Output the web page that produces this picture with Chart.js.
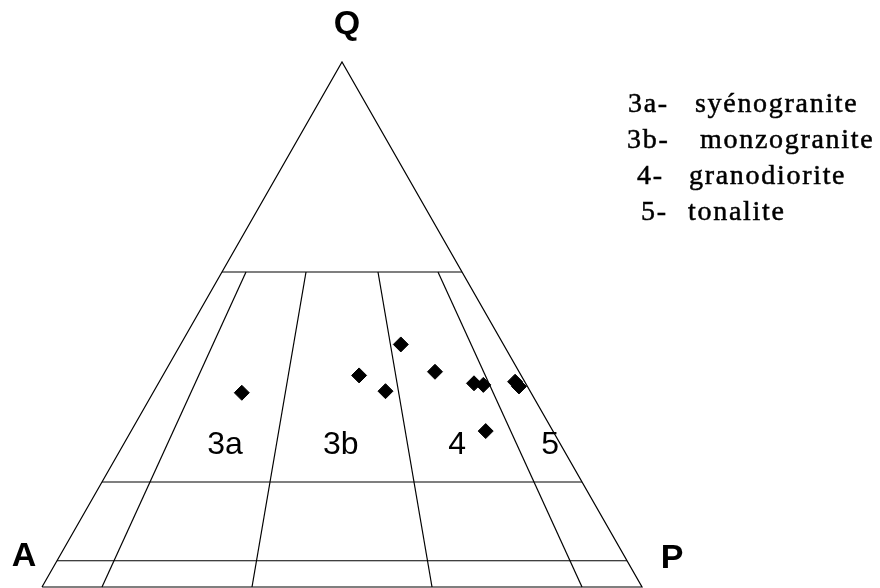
<!DOCTYPE html>
<html>
<head>
<meta charset="utf-8">
<title>QAP</title>
<script src="https://cdn.jsdelivr.net/npm/chart.js@4.4.1/dist/chart.umd.min.js"></script>
<style>
    body { margin: 0; background: #fff; }
    #wrap { width: 880px; height: 588px; position: relative; }
</style>
</head>
<body>
<div id="wrap"><canvas id="qap"></canvas></div>
<script>
// Sample compositions (%), Q + A + P = 100
const qValues = [37.0, 40.3, 37.3, 46.2, 41.0, 38.8, 38.5, 39.1, 38.2, 29.7];
const aValues = [48.2, 27.0, 24.1, 17.1, 14.0, 8.6, 7.2, 1.6, 1.4, 11.2];
const pValues = [14.8, 32.7, 38.6, 36.7, 45.0, 52.6, 54.3, 59.3, 60.4, 59.1];

// Diagram fields
const quartzLines = [60, 20, 5];            // Q % of horizontal lines
const plagRatios = [10, 35, 65, 90];        // 100*P/(A+P) of field boundaries
const fieldLabels = ['3a', '3b', '4', '5'];
const apexLabels = ['Q', 'A', 'P'];
const legendCodes = ['3a-', '3b-', '4-', '5-'];
const legendNames = ['syénogranite', 'monzogranite', 'granodiorite', 'tonalite'];

// ternary -> cartesian (x along A-P, y = Q)
const toXY = (q, a, p) => {
    let s = q + a + p;
    q = q * 100 / s;
    p = p * 100 / s;
    return { x: p + q / 2, y: q };
};

let lineSets = [];
const addLine = (pts) => {
    lineSets.push({
        data: pts,
        showLine: true,
        borderColor: '#000',
        borderWidth: 1.2,
        pointRadius: 0,
        fill: false
    });
};

// outline
addLine([toXY(0, 100, 0), toXY(100, 0, 0), toXY(0, 0, 100), toXY(0, 100, 0)]);

// horizontal Q lines
quartzLines.forEach(q => {
    addLine([toXY(q, 100 - q, 0), toXY(q, 0, 100 - q)]);
});

// field boundaries below Q = 60
plagRatios.forEach(r => {
    let top = 100 - quartzLines[0];
    addLine([
        toXY(quartzLines[0], top * (100 - r) / 100, top * r / 100),
        toXY(0, 100 - r, r)
    ]);
});

let samples = qValues.map((q, i) => toXY(q, aValues[i], pValues[i]));

const labelsPlugin = {
    id: 'qapLabels',
    afterDraw(chart) {
        const ctx = chart.ctx;
        const xs = chart.scales.x, ys = chart.scales.y;
        const px = (pt) => [xs.getPixelForValue(pt.x), ys.getPixelForValue(pt.y)];
        ctx.save();
        ctx.fillStyle = '#000';
        ctx.textAlign = 'center';
        ctx.textBaseline = 'middle';

        // apex letters
        ctx.font = 'bold 34px "Liberation Sans", Arial, sans-serif';
        let q = px(toXY(100, 0, 0));
        ctx.fillText(apexLabels[0], q[0] + 5, q[1] - 37);
        let a = px(toXY(0, 100, 0));
        ctx.fillText(apexLabels[1], a[0] - 18, a[1] - 30);
        let p = px(toXY(0, 0, 100));
        ctx.fillText(apexLabels[2], p[0] + 30, p[1] - 28);

        // field names
        ctx.font = '32px "Liberation Sans", Arial, sans-serif';
        const fieldX = [30.5, 49.8, 69.2, 84.7];
        fieldLabels.forEach((t, i) => {
            ctx.fillText(t, xs.getPixelForValue(fieldX[i]), ys.getPixelForValue(27));
        });

        // legend
        ctx.textAlign = 'left';
        ctx.textBaseline = 'alphabetic';
        ctx.font = '28px "Liberation Serif", "Times New Roman", serif';
        ctx.letterSpacing = '1.7px';
        ctx.strokeStyle = '#000';
        ctx.lineWidth = 0.5;
        const codeX = [628, 627, 637, 641];
        const nameX = [695, 700, 689, 688];
        legendCodes.forEach((c, i) => {
            let y = 112 + i * 36;
            ctx.fillText(c, codeX[i], y);
            ctx.strokeText(c, codeX[i], y);
            ctx.fillText(legendNames[i], nameX[i], y);
            ctx.strokeText(legendNames[i], nameX[i], y);
        });
        ctx.restore();
    }
};

new Chart(document.getElementById('qap'), {
    type: 'scatter',
    data: {
        datasets: [...lineSets, {
            data: samples,
            pointStyle: 'rectRot',
            pointRadius: 7.5,
            backgroundColor: '#000',
            borderColor: '#000',
            borderWidth: 1
        }]
    },
    options: {
        responsive: true,
        maintainAspectRatio: false,
        animation: false,
        devicePixelRatio: 1,
        layout: { padding: 0, autoPadding: false },
        clip: false,
        events: [],
        plugins: { legend: { display: false }, tooltip: { enabled: false } },
        scales: {
            x: { type: 'linear', display: false, min: -7, max: 139.667 },
            y: { type: 'linear', display: false, min: -0.19, max: 111.81 }
        }
    },
    plugins: [labelsPlugin]
});
</script>
</body>
</html>
